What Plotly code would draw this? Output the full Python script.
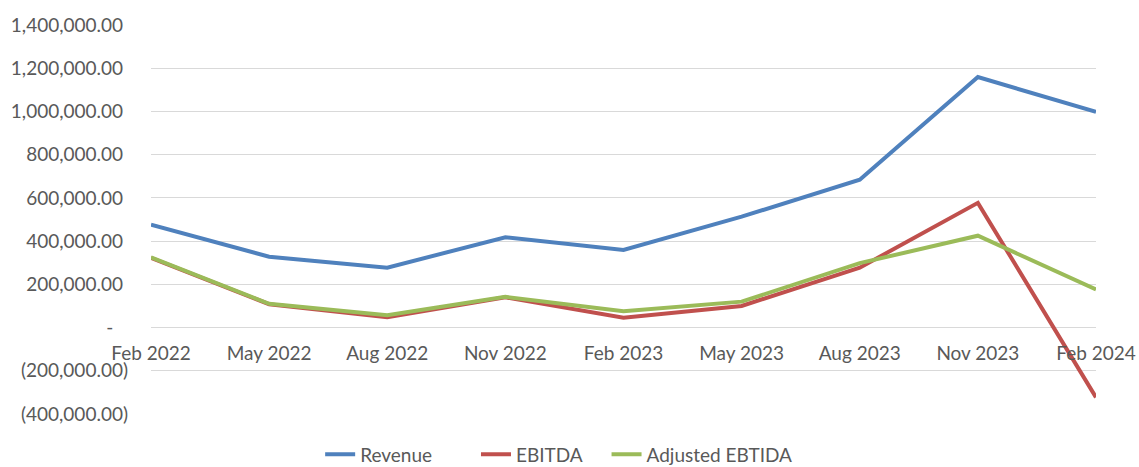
import plotly.graph_objects as go

categories = ["Feb 2022", "May 2022", "Aug 2022", "Nov 2022", "Feb 2023",
              "May 2023", "Aug 2023", "Nov 2023", "Feb 2024"]
revenue = [476000, 328000, 277000, 418000, 359000, 513000, 684000, 1159000, 998000]
ebitda = [323000, 108000, 48000, 140000, 45000, 100000, 277000, 577000, -323000]
adjusted_ebitda = [325000, 110000, 57000, 142000, 76000, 120000, 298000, 425000, 176000]

y_tickvals = [-400000, -200000, 0, 200000, 400000, 600000, 800000, 1000000, 1200000, 1400000]
y_ticktext = ["(400,000.00)", "(200,000.00)", "-\u00a0\u00a0\u00a0", "200,000.00\u00a0",
              "400,000.00\u00a0", "600,000.00\u00a0", "800,000.00\u00a0", "1,000,000.00\u00a0",
              "1,200,000.00\u00a0", "1,400,000.00\u00a0"]

# legend labels (padding keeps the reference's legend spacing)
series = [("Revenue" + "\u00a0" * 8, revenue, "#4F81BD"),
          ("EBITDA" + "\u00a0" * 4, ebitda, "#C0504D"),
          ("Adjusted EBTIDA", adjusted_ebitda, "#9BBB59")]

fig = go.Figure()
for name, vals, color in series:
    fig.add_trace(go.Scatter(x=categories, y=vals, mode="lines", name=name,
                             line=dict(color=color, width=4)))

font_color = "#595959"
ymin, ymax = -400000, 1400000
fig.update_layout(
    width=1139, height=467,
    margin=dict(l=151, r=43, t=25, b=53, autoexpand=False),
    plot_bgcolor="white", paper_bgcolor="white",
    font=dict(family="Lato", size=19, color=font_color),
    showlegend=True,
    legend=dict(orientation="h", x=0.179, xanchor="left", y=-0.104, yanchor="middle",
                font=dict(size=19, color=font_color), itemwidth=30,
                bgcolor="rgba(0,0,0,0)"),
    xaxis=dict(type="category", range=[0, len(categories) - 1],
               showgrid=False, showline=False, ticks="", zeroline=False,
               anchor="free", position=(0 - ymin) / (ymax - ymin),
               ticklabelstandoff=12,
               tickfont=dict(size=19, color=font_color)),
    yaxis=dict(range=[ymin, ymax], tickvals=y_tickvals, ticktext=y_ticktext,
               showgrid=True, gridcolor="#D9D9D9", gridwidth=1,
               zeroline=True, zerolinecolor="#D9D9D9", zerolinewidth=1,
               showline=False, ticks="", ticklabelstandoff=22,
               tickfont=dict(size=19, color=font_color)),
)

fig.write_html("out.html")
